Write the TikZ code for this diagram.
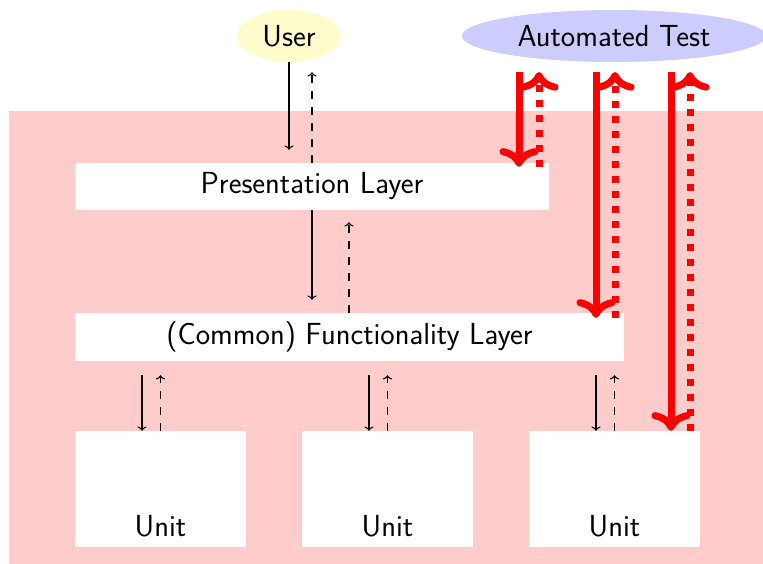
\documentclass[tikz,border=0pt]{standalone}
\usepackage{fontspec}
\usetikzlibrary{arrows.meta,shapes.geometric}
\begin{document}
\begin{tikzpicture}[x=1pt,y=-1pt,
  font=\sffamily\fontsize{30.5}{36}\selectfont,
  actor/.style={ellipse,inner sep=0pt},
  layer/.style={rectangle,fill=white,inner sep=0pt},
  unitbox/.style={rectangle,fill=white,inner sep=0pt,minimum width=171pt,text height=105pt,text depth=11pt},
  call/.style={-{To[length=4.3pt,width=9.2pt]},line width=1.1pt},
  ret/.style={-{To[length=4.3pt,width=9.2pt]},line width=1.1pt,dash pattern=on 8pt off 8pt},
  tcall/.style={red,line width=7pt,-{To[scale=1.1]}},
  tret/.style={red,line width=7pt,dash pattern=on 7pt off 8pt,-{To[scale=1.1]}}
]
\useasboundingbox (0,0) rectangle (763,563);
\fill[red!20] (9,111) rectangle (770,570);
\node[actor,fill=yellow!20,minimum width=104pt,minimum height=52pt] (user) at (289,36) {User};
\node[actor,fill=blue!20,minimum width=304pt,minimum height=52pt] (auto) at (614,36) {Automated Test};
\node[layer,minimum width=474pt,minimum height=47pt] (pres) at (312,186.5) {Presentation Layer};
\node[layer,minimum width=549pt,minimum height=48pt] (func) at (349.5,337) {(Common) Functionality Layer};
\node[unitbox] (u1) at (160.5,489) {Unit};
\node[unitbox] (u2) at (387.5,489) {Unit};
\node[unitbox] (u3) at (614.5,489) {Unit};
% user <-> presentation
\draw[call,shorten >=13pt] (user.south) -- (user.south |- pres.north);
\draw[ret,shorten >=10pt] ([xshift=23pt]user.south |- pres.north) -- ([xshift=23pt]user.south);
% presentation <-> functionality
\draw[call,shorten >=13pt] (pres.south) -- (pres.south |- func.north);
\draw[ret,shorten >=12pt] ([xshift=37pt]pres.south |- func.north) -- ([xshift=37pt]pres.south);
% functionality <-> units
\foreach \u in {u1,u2,u3}{
  \draw[call,shorten <=14pt] ([xshift=-18.5pt]\u.north |- func.south) -- ([xshift=-18.5pt]\u.north);
  \draw[ret,shorten >=14pt] (\u.north) -- (\u.north |- func.south);
}
% automated test
\coordinate (a1) at (519,72);
\coordinate (b1) at (539,72);
\coordinate (a2) at (596,72);
\coordinate (b2) at (615,72);
\coordinate (a3) at (671,72);
\coordinate (b3) at (690,72);
\draw[tcall,shorten >=-4pt] (a1) -- (a1 |- pres.north);
\draw[tret,shorten <=-4pt] (b1 |- pres.north) -- (b1);
\draw[tcall,shorten >=-5pt] (a2) -- (a2 |- func.north);
\draw[tret,shorten <=-5pt] (b2 |- func.north) -- (b2);
\draw[tcall] (a3) -- (a3 |- u3.north);
\draw[tret] (b3 |- u3.north) -- (b3);
\end{tikzpicture}
\end{document}
